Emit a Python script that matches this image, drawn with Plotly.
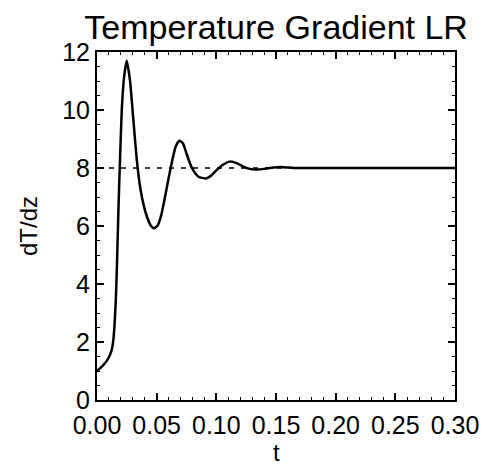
import plotly.graph_objects as go

# Data
t_vals = [0.0, 0.0053, 0.0095, 0.0123, 0.0137, 0.0147, 0.0156, 0.0164, 0.0172, 0.0182,
          0.0193, 0.0207, 0.0226, 0.0249, 0.0277, 0.0304, 0.0333, 0.0363, 0.0395, 0.042,
          0.045, 0.0478, 0.051, 0.054, 0.057, 0.060, 0.063, 0.066, 0.069, 0.072,
          0.075, 0.078, 0.081, 0.085, 0.0914, 0.096, 0.1003, 0.105, 0.1115, 0.117,
          0.1226, 0.128, 0.134, 0.14, 0.148, 0.156, 0.165, 0.18, 0.20, 0.22,
          0.25, 0.28, 0.30]
dTdz = [1.0, 1.2, 1.44, 1.72, 2.07, 2.6, 3.3, 4.2, 5.4, 6.9,
        8.3, 9.94, 11.1, 11.7, 11.0, 9.7, 8.3, 7.3, 6.65, 6.3,
        6.02, 5.92, 6.03, 6.4, 7.0, 7.65, 8.25, 8.75, 8.94, 8.85,
        8.5, 8.15, 7.9, 7.7, 7.64, 7.75, 7.93, 8.1, 8.22, 8.17,
        8.05, 7.97, 7.95, 7.97, 8.02, 8.03, 8.0, 8.0, 8.0, 8.0,
        8.0, 8.0, 8.0]
ref_t = [0.0, 0.30]
ref_val = [8.0, 8.0]

title_text = "Temperature Gradient LR"
x_title = "t"
y_title = "dT/dz"
x_ticks = [0.0, 0.05, 0.10, 0.15, 0.20, 0.25, 0.30]
y_ticks = [0, 2, 4, 6, 8, 10, 12]

fig = go.Figure()
fig.add_trace(go.Scatter(x=ref_t, y=ref_val, mode="lines",
                         line=dict(color="black", width=1.5, dash="5px,7px"),
                         showlegend=False, hoverinfo="skip"))
fig.add_trace(go.Scatter(x=t_vals, y=dTdz, mode="lines",
                         line=dict(color="black", width=2.5, shape="spline", smoothing=0.5),
                         showlegend=False))

font_family = "Liberation Sans, Arial, sans-serif"
fig.update_layout(
    width=487, height=467,
    margin=dict(l=97, r=32, t=52, b=67),
    paper_bgcolor="white", plot_bgcolor="white",
    font=dict(family=font_family, color="black", size=24),
    title=dict(text=title_text, x=0.567, xanchor="center", y=0.942, yanchor="middle",
               font=dict(size=34, family=font_family, color="black")),
    annotations=[dict(text=x_title, xref="paper", yref="paper", x=0.5, y=-0.15,
                      xanchor="center", yanchor="middle", showarrow=False,
                      font=dict(size=24, family=font_family, color="black"))],
)
fig.update_xaxes(
    range=[0, 0.30], tickvals=x_ticks, tickformat=".2f", automargin=False,
    ticks="inside", ticklen=7, tickwidth=1.5, tickcolor="black",
    minor=dict(ticks="inside", ticklen=3, dtick=0.01, tickcolor="black", tickwidth=1.2),
    showline=True, linecolor="black", linewidth=2, mirror="ticks",
    showgrid=False, zeroline=False,
    tickfont=dict(size=25), ticklabelstandoff=2,
)
fig.update_yaxes(
    range=[0, 12], tickvals=y_ticks, automargin=False,
    ticks="inside", ticklen=7, tickwidth=1.5, tickcolor="black",
    minor=dict(ticks="inside", ticklen=3, dtick=0.5, tickcolor="black", tickwidth=1.2),
    showline=True, linecolor="black", linewidth=2, mirror="ticks",
    showgrid=False, zeroline=False,
    tickfont=dict(size=25),
    title=dict(text=y_title, font=dict(size=24), standoff=18),
)
fig.write_html("out.html")
